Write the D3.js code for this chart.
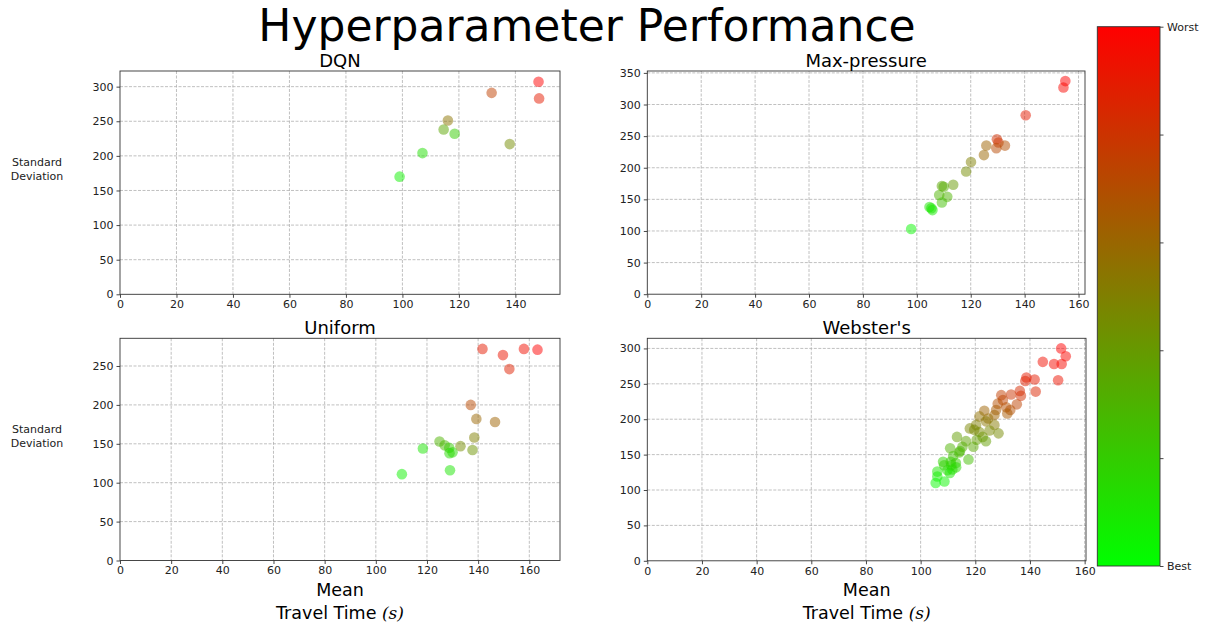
<!DOCTYPE html>
<meta charset="utf-8">
<style>
body { margin: 0; background: #fff; }
svg { font-family: "DejaVu Sans", sans-serif; }
.grid line { stroke: #b0b0b0; stroke-width: 0.8; stroke-dasharray: 3,1.5; }
.axis path, .axis line { stroke: #333; stroke-width: 0.9; }
.axis text { fill: #222; font-size: 11px; font-family: "DejaVu Sans", sans-serif; }
</style>
<svg width="1210" height="628"></svg>
<script src="https://d3js.org/d3.v7.min.js"></script>
<script>

// DQN
var dqnMean  = [148.2, 148.4, 131.6, 116.1, 114.6, 118.5, 138.0, 107.1, 99.0];
var dqnStd   = [307, 283, 291, 251, 238, 232, 217, 204, 170];
var dqnScore = [1.0, 0.9, 0.75, 0.55, 0.35, 0.2, 0.45, 0.12, 0.05];

// Max-pressure
var maxMean  = [155.1, 154.4, 140.4, 129.7, 130.3, 132.7, 129.5, 125.8, 124.9, 120.1, 118.3,
                113.5, 109.3, 110.0, 108.3, 111.3, 109.3, 104.7, 105.8, 105.4, 97.9];
var maxStd   = [337, 327, 283, 245, 240, 235, 231, 235, 220, 209, 194,
                173, 171, 170, 157, 154, 145, 138, 133, 136, 103];
var maxScore = [1.0, 0.98, 0.9, 0.82, 0.8, 0.7, 0.72, 0.62, 0.6, 0.5, 0.45,
                0.4, 0.35, 0.33, 0.3, 0.3, 0.25, 0.1, 0.08, 0.1, 0.03];

// Uniform
var uniMean  = [141.7, 149.7, 157.9, 163.2, 152.2, 137.1, 139.3, 146.6, 138.5, 124.9,
                126.9, 128.7, 130.0, 128.8, 133.1, 137.8, 118.4, 129.0, 110.2];
var uniStd   = [272, 264, 272, 271, 246, 200, 182, 178, 158, 153,
                148, 145, 139, 138, 147, 142, 144, 116, 111];
var uniScore = [0.9, 0.92, 0.95, 1.0, 0.88, 0.72, 0.6, 0.62, 0.5, 0.3,
                0.28, 0.2, 0.15, 0.15, 0.45, 0.42, 0.1, 0.1, 0.05];

// Webster's
var webMean  = [151.4, 153.1, 144.7, 148.8, 151.6, 150.3, 138.7, 141.7, 138.3, 142.1,
                136.3, 136.7, 133.1, 129.5, 135.2, 132.8, 130.1, 128.2, 131.3, 127.6,
                131.7, 123.3, 127.0, 124.7, 121.5, 123.9, 127.0, 120.3, 118.0, 119.6,
                121.5, 125.2, 128.5, 122.7, 113.3, 116.6, 120.5, 123.9, 119.3, 115.3,
                110.8, 114.1, 111.9, 117.5, 108.6, 111.0, 112.9, 109.8, 111.6, 106.1,
                110.7, 106.1, 108.7, 105.5, 113.0, 111.2, 108.2, 114.4];
var webStd   = [300, 289, 281, 278, 278, 255, 259, 256, 254, 239,
                240, 233, 235, 234, 221, 213, 227, 222, 217, 213,
                208, 212, 206, 201, 204, 197, 192, 192, 187, 185,
                182, 184, 180, 175, 175, 169, 171, 169, 161, 161,
                159, 153, 148, 143, 135, 140, 138, 128, 129, 126,
                124, 119, 112, 110, 132, 135, 140, 155];
var webScore = [1.0, 0.98, 0.95, 0.96, 0.97, 0.93, 0.9, 0.9, 0.88, 0.86,
                0.84, 0.82, 0.8, 0.76, 0.74, 0.7, 0.74, 0.7, 0.7, 0.66,
                0.66, 0.62, 0.62, 0.58, 0.56, 0.54, 0.52, 0.5, 0.48, 0.47,
                0.46, 0.47, 0.46, 0.42, 0.38, 0.37, 0.38, 0.38, 0.34, 0.32,
                0.3, 0.28, 0.25, 0.26, 0.18, 0.2, 0.2, 0.12, 0.13, 0.1,
                0.1, 0.06, 0.04, 0.02, 0.15, 0.16, 0.18, 0.28];

var xTicks = [0, 20, 40, 60, 80, 100, 120, 140, 160];
var barLabels = ["Best", "", "", "", "", "Worst"];

var panels = [
  {title: "DQN",          mean: dqnMean, std: dqnStd, score: dqnScore,
   box: [120, 71, 560, 294.3],   xMax: 155.8, yMax: 322.6, yTicks: [0,50,100,150,200,250,300]},
  {title: "Max-pressure", mean: maxMean, std: maxStd, score: maxScore,
   box: [647.3, 71, 1085, 294.2], xMax: 162.4, yMax: 353, yTicks: [0,50,100,150,200,250,300,350]},
  {title: "Uniform",      mean: uniMean, std: uniStd, score: uniScore,
   box: [120, 338.3, 560, 560.5], xMax: 172, yMax: 285.6, yTicks: [0,50,100,150,200,250]},
  {title: "Webster's",    mean: webMean, std: webStd, score: webScore,
   box: [647.3, 338.3, 1086, 560.8], xMax: 160.5, yMax: 314.3, yTicks: [0,50,100,150,200,250,300]}
];

var svg = d3.select("svg");
var color = d3.scaleLinear().domain([0, 1]).range(["#00ff00", "#ff0000"]);

svg.append("text")
    .attr("x", 587).attr("y", 41)
    .attr("text-anchor", "middle")
    .style("font-size", "44px")
    .attr("fill", "#000")
    .text("Hyperparameter Performance");

panels.forEach(function(p, i) {
  var x = d3.scaleLinear().domain([0, p.xMax]).range([p.box[0], p.box[2]]),
      y = d3.scaleLinear().domain([0, p.yMax]).range([p.box[3], p.box[1]]);

  var g = svg.append("g");

  // grid
  g.append("g").attr("class", "grid")
    .selectAll("line").data(xTicks.filter(function(t) { return t > 0 && t < p.xMax; }))
    .enter().append("line")
      .attr("x1", x).attr("x2", x)
      .attr("y1", p.box[1]).attr("y2", p.box[3]);
  g.append("g").attr("class", "grid")
    .selectAll("line").data(p.yTicks.filter(function(t) { return t > 0; }))
    .enter().append("line")
      .attr("y1", y).attr("y2", y)
      .attr("x1", p.box[0]).attr("x2", p.box[2]);

  // points
  var pts = p.mean.map(function(m, j) { return {m: m, s: p.std[j], c: p.score[j]}; });
  g.append("g").selectAll("circle")
    .data(pts)
    .enter().append("circle")
      .attr("cx", function(d) { return x(d.m); })
      .attr("cy", function(d) { return y(d.s); })
      .attr("r", 5.3)
      .attr("fill", function(d) { return color(d.c); })
      .attr("fill-opacity", 0.5);

  // frame
  g.append("rect")
    .attr("x", p.box[0]).attr("y", p.box[1])
    .attr("width", p.box[2] - p.box[0]).attr("height", p.box[3] - p.box[1])
    .attr("fill", "none").attr("stroke", "#333").attr("stroke-width", 0.9);

  g.append("g").attr("class", "axis")
    .attr("transform", "translate(0," + p.box[3] + ")")
    .call(d3.axisBottom(x).tickValues(xTicks.filter(function(t) { return t <= p.xMax; }))
      .tickSize(3.5).tickPadding(2.5).tickFormat(d3.format("d")))
    .select(".domain").remove();

  g.append("g").attr("class", "axis")
    .attr("transform", "translate(" + p.box[0] + ",0)")
    .call(d3.axisLeft(y).tickValues(p.yTicks).tickSize(3.5).tickPadding(3).tickFormat(d3.format("d")))
    .select(".domain").remove();

  var cx = (p.box[0] + p.box[2]) / 2;
  svg.append("text")
    .attr("x", cx).attr("y", p.box[1] - 4)
    .attr("text-anchor", "middle")
    .style("font-size", "18px")
    .text(p.title);

  if (i % 2 == 0) {
    var ym = (p.box[1] + p.box[3]) / 2;
    var lab = svg.append("text")
      .attr("text-anchor", "middle")
      .style("font-size", "11px")
      .attr("fill", "#222");
    lab.append("tspan").attr("x", 37).attr("y", ym - 16.5).text("Standard");
    lab.append("tspan").attr("x", 37).attr("y", ym - 2.5).text("Deviation");
  }

  if (i >= 2) {
    svg.append("text")
      .attr("x", cx).attr("y", 596)
      .attr("text-anchor", "middle")
      .style("font-size", "17.5px")
      .text("Mean");
    var tt = svg.append("text")
      .attr("x", cx).attr("y", 619)
      .attr("text-anchor", "middle")
      .style("font-size", "17.5px");
    tt.append("tspan").text("Travel Time ");
    tt.append("tspan")
      .style("font-family", "'DejaVu Serif', serif")
      .style("font-style", "italic")
      .style("font-size", "17px")
      .text("(s)");
  }
});

// colorbar
var defs = svg.append("defs");
var grad = defs.append("linearGradient")
    .attr("id", "cbar").attr("x1", 0).attr("y1", 1).attr("x2", 0).attr("y2", 0);
grad.append("stop").attr("offset", "0%").attr("stop-color", color(0));
grad.append("stop").attr("offset", "100%").attr("stop-color", color(1));

var cb = {x0: 1097.3, x1: 1160, y0: 26.7, y1: 566};
svg.append("rect")
    .attr("x", cb.x0).attr("y", cb.y0)
    .attr("width", cb.x1 - cb.x0).attr("height", cb.y1 - cb.y0)
    .attr("fill", "url(#cbar)")
    .attr("stroke", "#333").attr("stroke-width", 0.9);

var cy = d3.scaleLinear().domain([0, 1]).range([cb.y1, cb.y0]);
svg.append("g").attr("class", "axis")
    .attr("transform", "translate(" + cb.x1 + ",0)")
    .call(d3.axisRight(cy).tickValues([0, 0.2, 0.4, 0.6, 0.8, 1])
      .tickSize(3.5).tickPadding(3.5)
      .tickFormat(function(d, k) { return barLabels[k]; }))
    .select(".domain").remove();

</script>
